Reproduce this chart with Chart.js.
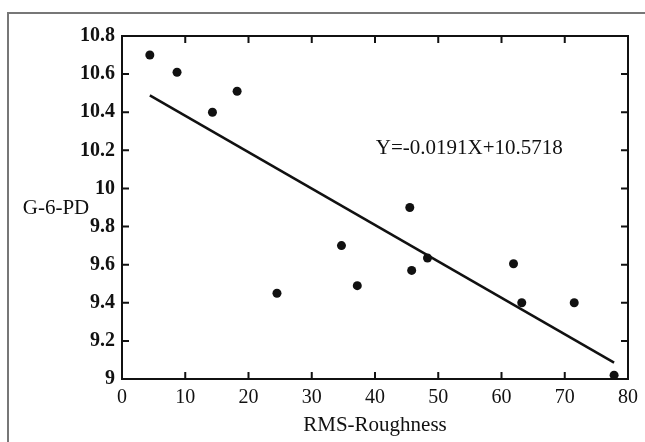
<!DOCTYPE html>
<html>
<head>
<meta charset="utf-8">
<script src="https://cdn.jsdelivr.net/npm/chart.js@4/dist/chart.umd.min.js"></script>
<style>
  html, body { margin: 0; padding: 0; background: #fff; }
  #wrap { position: relative; width: 645px; height: 442px; }
</style>
</head>
<body>
<div id="wrap"><canvas id="chart" width="645" height="442"></canvas></div>
<script>
// Measured points: RMS roughness vs G-6-PD
const roughness = [4.4, 8.7, 14.3, 18.2, 24.5, 34.7, 37.2, 45.5, 45.8, 48.3, 61.9, 63.2, 71.5, 77.8];
const g6pd = [10.70, 10.61, 10.40, 10.51, 9.45, 9.70, 9.49, 9.90, 9.57, 9.635, 9.605, 9.40, 9.40, 9.02];

// Fitted line end points (as drawn)
const fitX = [4.4, 77.8];
const fitY = [10.488, 9.086];

const xTicks = [0, 10, 20, 30, 40, 50, 60, 70, 80];
const yTicks = [9, 9.2, 9.4, 9.6, 9.8, 10, 10.2, 10.4, 10.6, 10.8];

const xTitle = 'RMS-Roughness';
const yTitle = 'G-6-PD';
const equation = 'Y=-0.0191X+10.5718';

const FONT = "'Liberation Serif', 'DejaVu Serif', serif";
const INK = '#111';

// frame, inward tick marks, y label and equation
const framePlugin = {
  id: 'frame',
  beforeDraw(chart) {
    const ctx = chart.ctx;
    ctx.save();
    ctx.strokeStyle = '#777';
    ctx.lineWidth = 2;
    ctx.beginPath();
    ctx.moveTo(8, 442);
    ctx.lineTo(8, 13);
    ctx.lineTo(645, 13);
    ctx.stroke();
    ctx.restore();
  },
  afterDraw(chart) {
    const { ctx, chartArea: a, scales } = chart;
    const tl = 7;
    ctx.save();
    ctx.strokeStyle = INK;
    ctx.lineWidth = 2;
    ctx.strokeRect(a.left, a.top, a.right - a.left, a.bottom - a.top);
    ctx.beginPath();
    xTicks.slice(1, -1).forEach(v => {
      const px = scales.x.getPixelForValue(v);
      ctx.moveTo(px, a.bottom); ctx.lineTo(px, a.bottom - tl);
      ctx.moveTo(px, a.top); ctx.lineTo(px, a.top + tl);
    });
    yTicks.slice(1, -1).forEach(v => {
      const py = scales.y.getPixelForValue(v);
      ctx.moveTo(a.left, py); ctx.lineTo(a.left + tl, py);
      ctx.moveTo(a.right, py); ctx.lineTo(a.right - tl, py);
    });
    ctx.stroke();

    ctx.fillStyle = INK;
    ctx.font = '21px ' + FONT;
    ctx.textAlign = 'center';
    ctx.textBaseline = 'middle';
    ctx.fillText(yTitle, 56, 208);

    ctx.fillText(equation, scales.x.getPixelForValue(54.9), scales.y.getPixelForValue(10.21));
    ctx.restore();
  }
};

new Chart(document.getElementById('chart'), {
  type: 'scatter',
  data: {
    datasets: [
      {
        label: 'data',
        data: roughness.map((x, i) => ({ x, y: g6pd[i] })),
        pointRadius: 4.5,
        pointBackgroundColor: INK,
        pointBorderWidth: 0,
        clip: false
      },
      {
        label: 'fit',
        type: 'line',
        data: fitX.map((x, i) => ({ x, y: fitY[i] })),
        borderColor: INK,
        borderWidth: 2.5,
        pointRadius: 0,
        fill: false
      }
    ]
  },
  options: {
    responsive: false,
    animation: false,
    layout: { padding: { top: 36, right: 17, left: 0, bottom: 0 } },
    plugins: { legend: { display: false }, tooltip: { enabled: false } },
    scales: {
      x: {
        type: 'linear',
        min: 0,
        max: 80,
        afterBuildTicks: s => { s.ticks = xTicks.map(v => ({ value: v })); },
        afterFit: s => { s.height = 63; },
        grid: { drawOnChartArea: false, drawTicks: false },
        border: { display: false },
        ticks: { color: INK, padding: 7, font: { family: FONT, size: 20 } },
        title: {
          display: true,
          text: xTitle,
          color: INK,
          padding: { top: -6 },
          font: { family: FONT, size: 21 }
        }
      },
      y: {
        type: 'linear',
        min: 9,
        max: 10.8,
        afterBuildTicks: s => { s.ticks = yTicks.map(v => ({ value: v })); },
        afterFit: s => { s.width = 122; },
        grid: { drawOnChartArea: false, drawTicks: false },
        border: { display: false },
        ticks: {
          color: INK,
          padding: 7,
          font: { family: FONT, size: 20, weight: 'bold' },
          callback: v => String(+v.toFixed(1))
        }
      }
    }
  },
  plugins: [framePlugin]
});
</script>
</body>
</html>
